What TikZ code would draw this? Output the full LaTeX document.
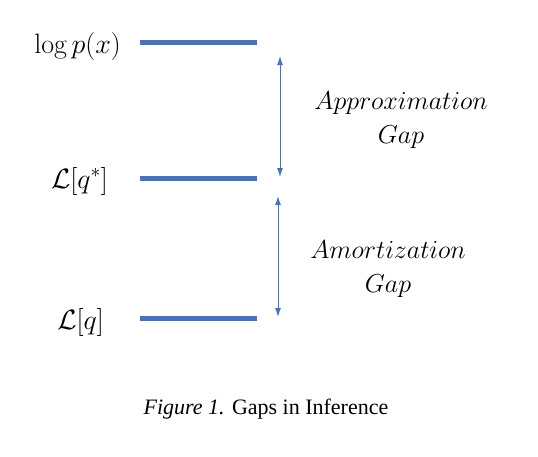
\RequirePackage{fix-cm}
\documentclass[tikz,border=0pt]{standalone}
\usepackage{fontspec}
\usetikzlibrary{arrows.meta}
\newfontfamily\capfont{Liberation Serif}
\definecolor{gapblue}{HTML}{4472C4}
\tikzset{
  level/.style={line width=5pt, gapblue},
  gap/.style={{Latex[length=9pt,width=6pt]}-{Latex[length=9pt,width=6pt]}, gapblue, line width=1pt},
  lbl/.style={anchor=east, font=\fontsize{28}{32}\selectfont, inner sep=0pt},
  gaptext/.style={align=center, font=\fontsize{26}{34}\selectfont}
}
\begin{document}
\begin{tikzpicture}[x=1pt, y=-1pt]
            \useasboundingbox (0,0) rectangle (538,456);

            \coordinate (1a) at (140,42);
            \coordinate (1b) at (257,42);
            \coordinate (2a) at (140,178);
            \coordinate (2b) at (257,178);
            \coordinate (3a) at (140,318);
            \coordinate (3b) at (257,318);

            \node (4) [lbl] at (121,46) {$\log p(x)$};
            \node (5) [lbl] at (108,181) {$\mathcal{L}[q^*]$};
            \node (6) [lbl] at (104,322) {$\mathcal{L}[q]$};

            \coordinate (7a) at (280,56);
            \coordinate (7b) at (280,177);
            \coordinate (8a) at (278,196);
            \coordinate (8b) at (278,317);

            \node (9) [gaptext] at (401,120) {$Approximation$\\$Gap$};
            \node (10) [gaptext] at (388,269) {$Amortization$\\$Gap$};

            \node (11) at (266,409) {\capfont\fontsize{22}{26}\selectfont\textit{Figure 1.} Gaps in Inference};

            \draw [level] (1a) -- (1b);
            \draw [level] (2a) -- (2b);
            \draw [level] (3a) -- (3b);

            \draw [gap] (7a) to (7b);
            \draw [gap] (8a) to (8b);
\end{tikzpicture}
\end{document}
